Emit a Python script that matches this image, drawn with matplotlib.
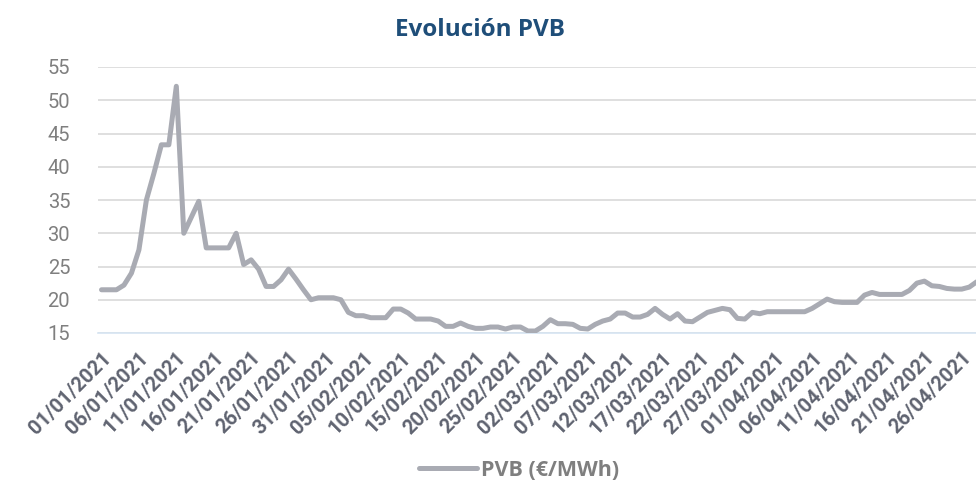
import matplotlib.pyplot as plt
import numpy as np
import pandas as pd

# PVB daily price (EUR/MWh), 01/01/2021 - 28/04/2021
dates = pd.date_range("2021-01-01", "2021-04-28", freq="D")
pvb = [
    21.5, 21.5, 21.5, 22.2, 24.0, 27.5, 35.0, 39.0, 43.3, 43.3,
    52.1, 30.0, 32.4, 34.8, 27.8, 27.8, 27.8, 27.8, 30.0, 25.3,
    26.0, 24.6, 22.0, 22.0, 23.0, 24.6, 23.1, 21.5, 20.0, 20.3,
    20.3, 20.3, 20.0, 18.1, 17.6, 17.6, 17.3, 17.3, 17.3, 18.6,
    18.6, 18.0, 17.1, 17.1, 17.1, 16.8, 16.0, 16.0, 16.5, 16.0,
    15.7, 15.7, 15.9, 15.9, 15.6, 15.9, 15.9, 15.3, 15.3, 16.0,
    17.0, 16.4, 16.4, 16.3, 15.7, 15.6, 16.3, 16.8, 17.1, 18.0,
    18.0, 17.4, 17.4, 17.8, 18.7, 17.8, 17.1, 17.9, 16.8, 16.7,
    17.4, 18.1, 18.4, 18.7, 18.5, 17.2, 17.1, 18.1, 17.9, 18.2,
    18.2, 18.2, 18.2, 18.2, 18.2, 18.7, 19.4, 20.1, 19.7, 19.6,
    19.6, 19.6, 20.7, 21.1, 20.8, 20.8, 20.8, 20.8, 21.4, 22.5,
    22.8, 22.1, 22.0, 21.7, 21.6, 21.6, 21.9, 22.7,
]
tick_dates = pd.date_range("2021-01-01", "2021-04-26", freq="5D")
tick_labels = [d.strftime("%d/%m/%Y") for d in tick_dates]
y_ticks = [15, 20, 25, 30, 35, 40, 45, 50, 55]

days = np.arange(len(pvb))
tick_pos = [(d - dates[0]).days for d in tick_dates]

fig = plt.figure(figsize=(9.76, 4.87), dpi=100)
ax = fig.add_axes([98 / 976, 1 - 333 / 487, 1 - 98 / 976, (333 - 67) / 487])

ax.plot(days, pvb, color="#A9ABB3", lw=3.6, solid_capstyle="round",
        solid_joinstyle="round", label="PVB (€/MWh)", zorder=3)

ax.set_ylim(15, 55)
ax.set_xlim(-0.47, 116.9)
ax.set_yticks(y_ticks)
ax.set_yticklabels([str(v) for v in y_ticks], fontsize=14.5, color="#7F7F7F",
                   family=["Roboto", "DejaVu Sans"])
ax.set_xticks(tick_pos)
ax.set_xticklabels(tick_labels, rotation=45, ha="right", va="top",
                   rotation_mode="anchor", fontsize=14.5, color="#5F6370",
                   fontweight="bold", family=["Roboto", "DejaVu Sans"])
ax.tick_params(axis="both", length=0)
ax.tick_params(axis="y", pad=20)
ax.tick_params(axis="x", pad=11)

ax.grid(axis="y", color="#D9D9D9", lw=1.2)
for s in ["top", "right", "left"]:
    ax.spines[s].set_visible(False)
ax.spines["bottom"].set_color("#D6E4F2")
ax.spines["bottom"].set_linewidth(1.2)

fig.text(480 / 976, 1 - 30 / 487, "Evolución PVB", ha="center", va="center",
         fontsize=17.5, fontweight="bold", color="#1F4E79",
         family=["Open Sans", "DejaVu Sans"])

fig.legend(loc="center", bbox_to_anchor=(519 / 976, 1 - 470 / 487), frameon=False,
           handlelength=2.7, handletextpad=0.15,
           prop={"family": ["Open Sans", "DejaVu Sans"], "weight": "bold", "size": 15.5})
for t in fig.legends[0].get_texts():
    t.set_color("#7F7F7F")

fig.savefig("out.png", dpi=100)
